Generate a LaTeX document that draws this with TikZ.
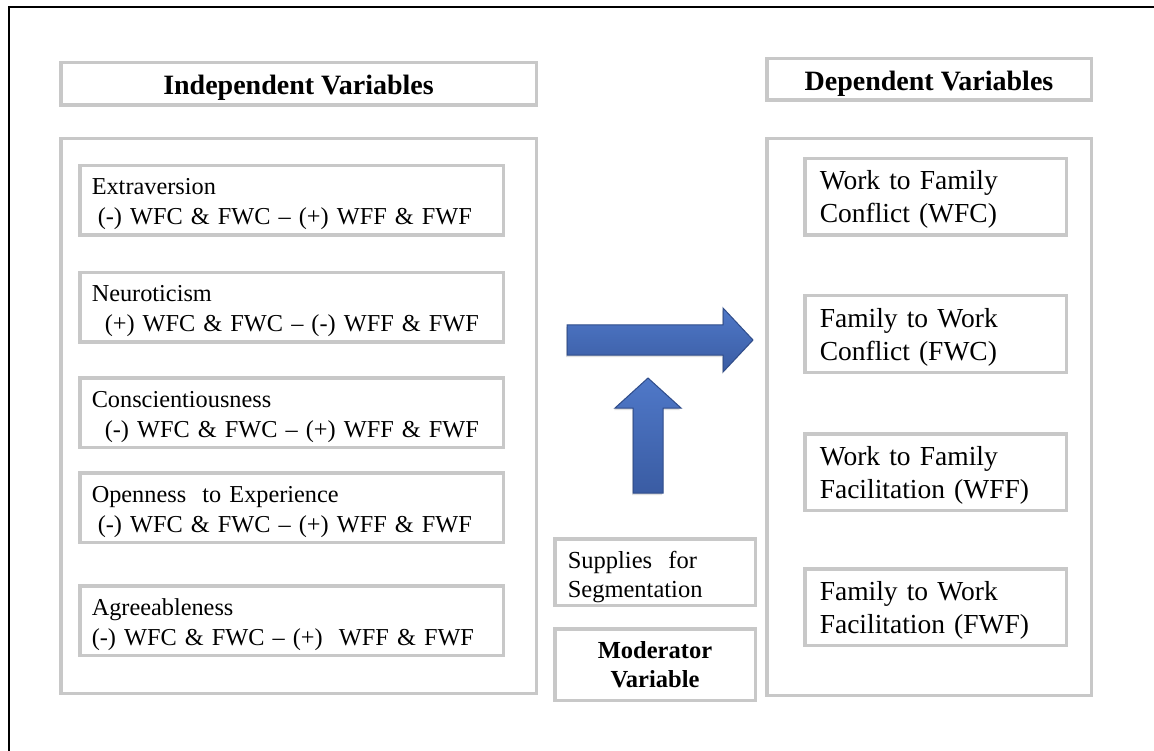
\documentclass[tikz,border=0pt]{standalone}
\usepackage{fontspec}
\setmainfont{Liberation Serif}
\definecolor{boxgray}{HTML}{C8C8C8}
\definecolor{arrtop}{HTML}{4F78C8}
\definecolor{arrbot}{HTML}{3A5CA3}
\definecolor{arredge}{HTML}{2F4C8A}
\newcommand\hdrfont{\fontsize{28}{33}\selectfont\bfseries}
\newcommand\ivfont{\fontsize{24.3}{30}\selectfont}
\newcommand\dvfont{\fontsize{27.5}{33}\selectfont}
\newcommand\supfont{\fontsize{24.5}{29}\selectfont}
\newcommand\modfont{\fontsize{24.5}{29}\selectfont\bfseries}
\tikzset{
  gbox/.style={draw=boxgray, line width=3.5pt, rectangle, inner sep=0pt, anchor=north west, fill=white},
  hdrbox/.style={gbox, align=center, font=\hdrfont, text height=22pt, text depth=0pt},
  ivbox/.style={gbox, minimum width=423.5, minimum height=69.5, text width=399.5, inner xsep=12pt, align=left, font=\ivfont, text height=17pt, text depth=28pt},
  dvbox/.style={gbox, minimum width=261.5, minimum height=76.5, text width=231.5, inner xsep=15pt, align=left, font=\dvfont, text height=19pt, text depth=33pt},
  supbox/.style={gbox, minimum width=200.5, minimum height=66.5, text width=174.5, inner xsep=13pt, align=left, font=\supfont, text height=17pt, text depth=25pt},
  modbox/.style={gbox, minimum width=200.5, minimum height=71.5, text width=190, inner xsep=5.25pt, align=center, font=\modfont, text height=17pt, text depth=30pt},
  blockarrow/.style={top color=arrtop, bottom color=arrbot, draw=arredge, line width=1pt, line join=miter},
  arrowshadow/.style={fill=black, opacity=0.12}
}
\begin{document}
\begin{tikzpicture}[x=1pt,y=-1pt]
\useasboundingbox (0,0) rectangle (1154,751);
\fill[white] (0,0) rectangle (1154,751);
\draw[line width=1.6pt] (9,751) -- (9,7) -- (1154,7);

% headers
\node[hdrbox, minimum width=475.5, minimum height=42.5] (ivhdr) at (59,61) {Independent Variables};
\node[hdrbox, minimum width=324.5, minimum height=41.5] (dvhdr) at (765,57) {Dependent Variables};

% group boxes
\node[gbox, minimum width=475.5, minimum height=554.5] (ivgroup) at (59,137) {};
\node[gbox, minimum width=324.5, minimum height=556.5] (dvgroup) at (765,137) {};

% independent variables
\node[ivbox] (extra) at (78,164) {Extraversion\\\hspace*{6pt}(-) WFC \& FWC – (+) WFF \& FWF};
\node[ivbox] (neuro) at (78,271) {Neuroticism\\\hspace*{13pt}(+) WFC \& FWC – (-) WFF \& FWF};
\node[ivbox] (consc) at (78,376) {Conscientiousness\\\hspace*{13pt}(-) WFC \& FWC – (+) WFF \& FWF};
\node[ivbox] (open) at (78,471) {Openness\ \ to Experience\\\hspace*{6pt}(-) WFC \& FWC – (+) WFF \& FWF};
\node[ivbox] (agree) at (78,584) {Agreeableness\\(-) WFC \& FWC – (+)\ \ WFF \& FWF};

% dependent variables
\node[dvbox] (wfc) at (803,157) {Work to Family\\Conflict (WFC)};
\node[dvbox] (fwc) at (803,294) {Family to Work\\Conflict (FWC)};
\node[dvbox] (wff) at (803,432) {Work to Family\\Facilitation (WFF)};
\node[dvbox] (fwf) at (803,567) {Family to Work\\Facilitation (FWF)};

% moderator
\node[supbox] (supp) at (553,537) {Supplies\ \ for\\Segmentation};
\node[modbox] (moder) at (553,627) {Moderator\\Variable};

% block arrows (soft shadow, then arrow)
\fill[arrowshadow] (566,327) -- (722,327) -- (722,310) -- (752,342) -- (722,374) -- (722,357) -- (566,357) -- cycle;
\shade[blockarrow] (567,325) -- (723,325) -- (723,308) -- (753,340) -- (723,372) -- (723,355) -- (567,355) -- cycle;
\fill[arrowshadow] (632,495) -- (632,410) -- (614,410) -- (647,380) -- (680,410) -- (662,410) -- (662,495) -- cycle;
\shade[blockarrow] (633,493) -- (633,408) -- (615,408) -- (648,378) -- (681,408) -- (663,408) -- (663,493) -- cycle;
\end{tikzpicture}
\end{document}
